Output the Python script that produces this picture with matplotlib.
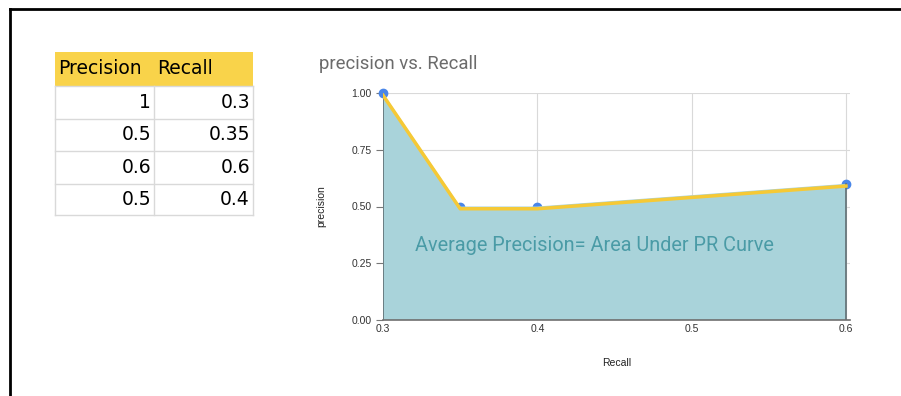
import matplotlib.pyplot as plt
from matplotlib.patches import Rectangle
from matplotlib.lines import Line2D

# Table values (as listed, unsorted)
precision = [1, 0.5, 0.6, 0.5]
recall = [0.3, 0.35, 0.6, 0.4]
table_header = ['Precision', 'Recall']

# Curve points sorted by recall
curve_recall = [0.3, 0.35, 0.4, 0.6]
curve_precision = [1.0, 0.5, 0.5, 0.6]

W, H = 901, 396
fig = plt.figure(figsize=(W / 100, H / 100), dpi=100)
plt.rcParams['font.family'] = ['Roboto', 'DejaVu Sans']

# frame lines (top and left)
fig.add_artist(Line2D([10 / W, 1], [1 - 9 / H, 1 - 9 / H], color='black', lw=2))
fig.add_artist(Line2D([10 / W, 10 / W], [0, 1 - 9 / H], color='black', lw=2))

# spreadsheet-like table
x0, x1, x2 = 55, 154, 253
row_edges = [52, 86, 119, 151, 184, 215]
grid_col = '#d9d9d9'
tfont = ['DejaVu Sans']
fig.add_artist(Rectangle((x0 / W, 1 - row_edges[1] / H), (x2 - x0) / W,
                         (row_edges[1] - row_edges[0]) / H,
                         facecolor='#f9d34a', edgecolor='none'))
for y in row_edges[1:]:
    fig.add_artist(Line2D([x0 / W, x2 / W], [1 - y / H, 1 - y / H], color=grid_col, lw=1))
for x in (x0, x1, x2):
    fig.add_artist(Line2D([x / W, x / W], [1 - row_edges[1] / H, 1 - row_edges[-1] / H],
                          color=grid_col, lw=1))
hy = 1 - (row_edges[0] + row_edges[1]) / 2 / H
fig.text((x0 + 3) / W, hy, table_header[0], fontsize=13.5, va='center', ha='left', family=tfont)
fig.text((x1 + 3) / W, hy, table_header[1], fontsize=13.5, va='center', ha='left', family=tfont)
for i, (p, r) in enumerate(zip(precision, recall)):
    cy = 1 - (row_edges[i + 1] + row_edges[i + 2]) / 2 / H
    fig.text((x1 - 3) / W, cy, f'{p:g}', fontsize=13.5, va='center', ha='right', family=tfont)
    fig.text((x2 - 3) / W, cy, f'{r:g}', fontsize=13.5, va='center', ha='right', family=tfont)

# chart
ax = fig.add_axes([383 / W, 1 - 320 / H, (850 - 383) / W, (320 - 93) / H])
ax.set_xlim(0.3, 0.6026)
ax.set_ylim(0, 1)

xs = [curve_recall[0]] + curve_recall + [curve_recall[-1]]
ys = [0] + curve_precision + [0]
ax.fill(xs, ys, facecolor='#a9d3da', edgecolor='none', zorder=2)
edge = '#5f6f73'
ax.plot([curve_recall[0], curve_recall[0]], [0, curve_precision[0]], color=edge, lw=1.2, zorder=2.2)
ax.plot([curve_recall[-1], curve_recall[-1]], [0, curve_precision[-1]], color=edge, lw=1.2, zorder=2.2)
ax.plot(curve_recall, [p - 0.01 for p in curve_precision], color='#f6c935', lw=2.5, zorder=3)
ax.scatter(curve_recall, curve_precision, s=36, color='#4a86e8', zorder=1.5, clip_on=False)

ax.set_xticks([0.3, 0.4, 0.5, 0.6])
ax.set_xticklabels(['0.3', '0.4', '0.5', '0.6'])
ax.set_yticks([0, 0.25, 0.5, 0.75, 1.0])
ax.set_yticklabels(['0.00', '0.25', '0.50', '0.75', '1.00'])
ax.tick_params(axis='both', labelsize=7.5, colors='#333333', length=0, pad=3)
ax.tick_params(axis='y', length=5, color='#777777', pad=3)
for lbl in ax.get_xticklabels() + ax.get_yticklabels():
    lbl.set_family(['Liberation Sans'])
ax.grid(True, color='#d9d9d9', lw=0.8, zorder=0)
ax.set_axisbelow(True)
for s in ['top', 'right', 'left']:
    ax.spines[s].set_visible(False)
ax.spines['bottom'].set_color('#6f6f6f')
ax.spines['bottom'].set_linewidth(1.2)

ax.set_xlabel('Recall', fontsize=7.5, color='#222222', labelpad=17, family=['Liberation Sans'])
ax.set_ylabel('precision', fontsize=7.5, color='#222222', labelpad=18, family=['Liberation Sans'])
ax.text(0.3205, 0.33, 'Average Precision= Area Under PR Curve', fontsize=14.3,
        color='#4a9ba6', va='center', ha='left', zorder=4)

fig.text(319 / W, 1 - 64 / H, 'precision vs. Recall', fontsize=13.3, color='#6b6b6b',
         va='center', ha='left')

fig.savefig('out.png', dpi=100)
